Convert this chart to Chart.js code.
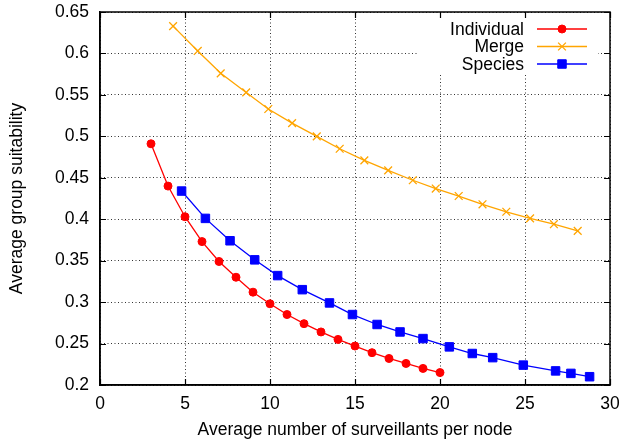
<!DOCTYPE html>
<html>
<head>
<meta charset="utf-8">
<script src="https://cdn.jsdelivr.net/npm/chart.js@4.4.1/dist/chart.umd.min.js"></script>
<style>
  html, body { margin: 0; padding: 0; background: #fff; }
</style>
</head>
<body>
<canvas id="chart" width="621" height="448"></canvas>
<script>
const xIndividual = [3, 4, 5, 6, 7, 8, 9, 10, 11, 12, 13, 14, 15, 16, 17, 18, 19, 20];
const yIndividual = [0.491, 0.440, 0.403, 0.373, 0.349, 0.330, 0.312, 0.298, 0.285, 0.274, 0.264, 0.255, 0.247, 0.239, 0.232, 0.226, 0.220, 0.215];

const xMerge = [4.3, 5.75, 7.1, 8.6, 9.9, 11.3, 12.75, 14.1, 15.55, 16.95, 18.4, 19.75, 21.1, 22.5, 23.9, 25.3, 26.7, 28.1];
const yMerge = [0.633, 0.603, 0.576, 0.553, 0.533, 0.516, 0.500, 0.485, 0.471, 0.459, 0.447, 0.437, 0.428, 0.418, 0.409, 0.401, 0.394, 0.386];

const xSpecies = [4.8, 6.2, 7.65, 9.1, 10.45, 11.9, 13.5, 14.85, 16.3, 17.65, 19.0, 20.55, 21.9, 23.1, 24.9, 26.8, 27.7, 28.8];
const ySpecies = [0.434, 0.401, 0.374, 0.351, 0.332, 0.315, 0.299, 0.285, 0.273, 0.264, 0.256, 0.246, 0.238, 0.233, 0.224, 0.217, 0.214, 0.210];

const xTicks = [0, 5, 10, 15, 20, 25, 30];
const yTicks = [0.2, 0.25, 0.3, 0.35, 0.4, 0.45, 0.5, 0.55, 0.6, 0.65];

const FONT = 'Liberation Sans, Arial, Helvetica, sans-serif';
const FONT_SIZE = 17.5;

function points(xs, ys) {
  return xs.map((x, i) => ({ x, y: ys[i] }));
}

// gnuplot style frame with inward ticks on all four sides
const framePlugin = {
  id: 'frame',
  afterDraw(chart) {
    const { ctx, chartArea: a, scales } = chart;
    const len = 6;
    ctx.save();
    ctx.strokeStyle = '#000';
    ctx.lineWidth = 1.2;
    ctx.beginPath();
    xTicks.forEach(v => {
      const px = Math.round(scales.x.getPixelForValue(v)) + 0.5;
      ctx.moveTo(px, a.bottom); ctx.lineTo(px, a.bottom - len);
      ctx.moveTo(px, a.top); ctx.lineTo(px, a.top + len);
    });
    yTicks.forEach(v => {
      const py = Math.round(scales.y.getPixelForValue(v)) + 0.5;
      ctx.moveTo(a.left, py); ctx.lineTo(a.left + len, py);
      ctx.moveTo(a.right, py); ctx.lineTo(a.right - len, py);
    });
    ctx.stroke();
    ctx.lineWidth = 1.5;
    ctx.strokeRect(a.left, a.top, a.right - a.left, a.bottom - a.top);
    ctx.restore();
  }
};

// key in the top right corner, on an opaque white box
const keyPlugin = {
  id: 'key',
  afterDatasetsDraw(chart) {
    const { ctx, chartArea: a } = chart;
    ctx.save();
    ctx.fillStyle = '#fff';
    ctx.fillRect(a.right - 192, a.top + 1, 180, 62);
    ctx.font = FONT_SIZE + 'px ' + FONT;
    ctx.textAlign = 'right';
    ctx.textBaseline = 'middle';
    chart.data.datasets.forEach((ds, i) => {
      const y = a.top + 17 + i * 17.5;
      ctx.fillStyle = '#000';
      ctx.fillText(ds.label, a.right - 86, y + 1);
      ctx.strokeStyle = ds.borderColor;
      ctx.lineWidth = ds.borderWidth;
      ctx.beginPath();
      ctx.moveTo(a.right - 73, y);
      ctx.lineTo(a.right - 23, y);
      ctx.stroke();
      ctx.fillStyle = ds.pointBackgroundColor;
      ctx.strokeStyle = ds.pointBorderColor;
      ctx.lineWidth = ds.pointBorderWidth;
      Chart.helpers.drawPoint(ctx, {
        pointStyle: ds.pointStyle, radius: ds.pointRadius, borderWidth: ds.pointBorderWidth, rotation: 0
      }, a.right - 48, y);
    });
    ctx.restore();
  }
};

const gridStyle = { color: 'rgba(0,0,0,0.8)', drawTicks: false, lineWidth: 1 };
const borderStyle = { display: true, color: '#000', width: 1.5, dash: [1, 2.5] };

new Chart(document.getElementById('chart'), {
  type: 'scatter',
  data: {
    datasets: [
      {
        label: 'Individual',
        data: points(xIndividual, yIndividual),
        showLine: true,
        borderColor: '#ff0000',
        borderWidth: 1.3,
        pointStyle: 'circle',
        pointRadius: 4,
        pointBackgroundColor: '#ff0000',
        pointBorderColor: '#ff0000',
        pointBorderWidth: 1
      },
      {
        label: 'Merge',
        data: points(xMerge, yMerge),
        showLine: true,
        borderColor: '#ffa500',
        borderWidth: 1.3,
        pointStyle: 'crossRot',
        pointRadius: 5.5,
        pointBackgroundColor: '#ffa500',
        pointBorderColor: '#ffa500',
        pointBorderWidth: 1.3
      },
      {
        label: 'Species',
        data: points(xSpecies, ySpecies),
        showLine: true,
        borderColor: '#0000ff',
        borderWidth: 1.3,
        pointStyle: 'rect',
        pointRadius: 6,
        pointBackgroundColor: '#0000ff',
        pointBorderColor: '#0000ff',
        pointBorderWidth: 1
      }
    ]
  },
  options: {
    responsive: false,
    animation: false,
    layout: { padding: { top: 12, right: 11, left: 0, bottom: 0 } },
    plugins: {
      legend: { display: false },
      tooltip: { enabled: false }
    },
    scales: {
      x: {
        type: 'linear',
        min: 0,
        max: 30,
        afterBuildTicks: (s) => { s.ticks = xTicks.map(v => ({ value: v })); },
        afterFit: (s) => { s.height = 63; s.paddingLeft = 0; s.paddingRight = 0; },
        grid: gridStyle,
        border: borderStyle,
        ticks: { color: '#000', font: { family: FONT, size: FONT_SIZE }, padding: 9, maxRotation: 0 },
        title: {
          display: true,
          text: 'Average number of surveillants per node',
          color: '#000',
          font: { family: FONT, size: FONT_SIZE },
          padding: { top: 0, bottom: 7 }
        }
      },
      y: {
        type: 'linear',
        min: 0.2,
        max: 0.65,
        afterBuildTicks: (s) => { s.ticks = yTicks.map(v => ({ value: v })); },
        afterFit: (s) => { s.width = 100; s.paddingTop = 0; s.paddingBottom = 0; },
        grid: gridStyle,
        border: borderStyle,
        ticks: {
          color: '#000',
          font: { family: FONT, size: FONT_SIZE },
          padding: 11,
          callback: (v) => String(Number(v.toFixed(2)))
        },
        title: {
          display: true,
          text: 'Average group suitability',
          color: '#000',
          font: { family: FONT, size: FONT_SIZE },
          padding: { top: 7, bottom: 0 }
        }
      }
    }
  },
  plugins: [keyPlugin, framePlugin]
});
</script>
</body>
</html>
